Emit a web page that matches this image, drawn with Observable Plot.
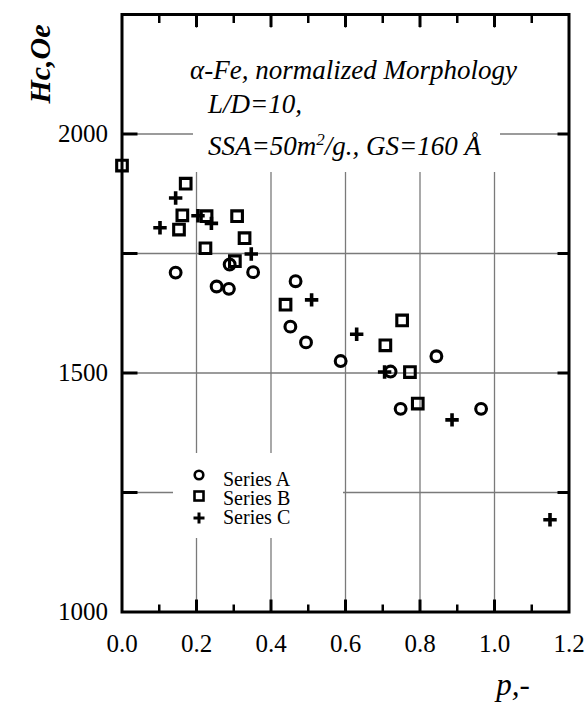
<!DOCTYPE html>
<html><head><meta charset="utf-8">
<script src="https://cdn.jsdelivr.net/npm/d3@7"></script>
<script src="https://cdn.jsdelivr.net/npm/@observablehq/plot@0.6"></script>
<style>
body{margin:0;background:#fff;}
#wrap{position:relative;width:587px;height:703px;font-family:"Liberation Serif",serif;color:#000;}
#wrap svg{position:absolute;left:0;top:0;}
</style></head><body><div id="wrap"></div>
<script>
// ---- data ----
const seriesNames = ["Series A", "Series B", "Series C"];
const seriesA_p  = [0.144, 0.254, 0.287, 0.289, 0.352, 0.466, 0.452, 0.494, 0.587, 0.721, 0.748, 0.844, 0.964];
const seriesA_hc = [1710, 1681, 1676, 1727, 1711, 1692, 1597, 1564, 1525, 1503, 1425, 1535, 1425];
const seriesB_p  = [0.0, 0.171, 0.162, 0.153, 0.227, 0.224, 0.309, 0.329, 0.303, 0.439, 0.752, 0.707, 0.773, 0.794];
const seriesB_hc = [1934, 1896, 1830, 1800, 1828, 1761, 1828, 1782, 1734, 1643, 1610, 1558, 1502, 1436];
const seriesC_p  = [0.144, 0.102, 0.204, 0.240, 0.347, 0.509, 0.630, 0.705, 0.886, 1.149];
const seriesC_hc = [1866, 1804, 1829, 1813, 1749, 1653, 1581, 1502, 1402, 1193];

const xLabelTicks = [0, 0.2, 0.4, 0.6, 0.8, 1.0, 1.2];
const xMajorTicks = [0.2, 0.4, 0.6, 0.8, 1.0];
const xMinorTicks = [0.1, 0.3, 0.5, 0.7, 0.9, 1.1];
const yLabelTicks = [1000, 1500, 2000];
const yGridTicks  = [1250, 1500, 1750, 2000];
const xTitle = "p,-";
const yTitle = "Hc,Oe";
const noteLine1 = "α-Fe, normalized Morphology";
const noteLine2 = "L/D=10,";

const toRows = (ps, hs) => ps.map((p, i) => ({p, hc: hs[i]}));
const dataA = toRows(seriesA_p, seriesA_hc);
const dataB = toRows(seriesB_p, seriesB_hc);
const dataC = toRows(seriesC_p, seriesC_hc);

const W = 587, H = 703;
const tickColor = "#000";
const plot = Plot.plot({
  width: W, height: H,
  marginLeft: 121.5, marginRight: 18.5, marginTop: 14, marginBottom: 91.5,
  x: {domain: [0, 1.2], label: null},
  y: {domain: [1000, 2250], label: null},
  style: {fontFamily: "'Liberation Serif', serif", fontSize: "25px", color: "#000", background: "#fff"},
  marks: [
    Plot.ruleX(xMajorTicks, {stroke: "#7a7a7a", strokeWidth: 1.3}),
    Plot.ruleY(yGridTicks, {stroke: "#7a7a7a", strokeWidth: 1.3}),
    // inward frame ticks (axis ticks shifted inside the frame)
    Plot.axisX(xMinorTicks, {anchor: "bottom", tickSize: 7, dy: -7, stroke: tickColor, strokeWidth: 2.5, fill: "none"}),
    Plot.axisX(xMajorTicks, {anchor: "bottom", tickSize: 12, dy: -12, stroke: tickColor, strokeWidth: 3, fill: "none"}),
    Plot.axisX(xMinorTicks, {anchor: "top", tickSize: 8, dy: 8, stroke: tickColor, strokeWidth: 2.5, fill: "none"}),
    Plot.axisX(xMajorTicks, {anchor: "top", tickSize: 12, dy: 12, stroke: tickColor, strokeWidth: 3, fill: "none"}),
    Plot.axisY(yGridTicks, {anchor: "left", tickSize: 16, dx: 16, stroke: tickColor, strokeWidth: 3, fill: "none"}),
    Plot.axisY(yGridTicks, {anchor: "right", tickSize: 12, dx: -12, stroke: tickColor, strokeWidth: 3, fill: "none"}),
    Plot.axisX(xLabelTicks, {anchor: "bottom", tickSize: 0, tickPadding: 22, tickFormat: d3.format(".1f"), fontSize: 25}),
    Plot.axisY(yLabelTicks, {anchor: "left", tickSize: 0, tickPadding: 14, tickFormat: d => String(d), fontSize: 25}),
    Plot.frame({stroke: "#000", strokeWidth: 3}),
    Plot.dot(dataA, {x: "p", y: "hc", symbol: "circle", r: 5.4, stroke: "#000", strokeWidth: 3.1, fill: "none"}),
    Plot.dot(dataB, {x: "p", y: "hc", symbol: "square", r: 6.0, stroke: "#000", strokeWidth: 3.1, fill: "none"}),
    Plot.dot(dataC, {x: "p", y: "hc", symbol: "plus", r: 4.4, stroke: "#000", strokeWidth: 3.6, fill: "none"})
  ]
});
const wrap = document.getElementById("wrap");
wrap.appendChild(plot);

// ---- overlay: annotation box, legend box, axis titles ----
const ov = d3.select(wrap).append("svg")
  .attr("width", W).attr("height", H)
  .style("font-family", "'Liberation Serif', serif");
ov.append("rect").attr("x", 193).attr("y", 28).attr("width", 307).attr("height", 144).attr("fill", "#fff");
const ital = {"font-style": "italic", "font-size": "27px"};
function txt(x, y, s, opts) {
  const t = ov.append("text").attr("x", x).attr("y", y).text(s);
  for (const k in opts) t.attr(k, opts[k]);
  return t;
}
txt(190, 79, noteLine1, ital);
txt(208, 113, noteLine2, ital);
const l3 = ov.append("text").attr("x", 208).attr("y", 155).attr("font-style", "italic").attr("font-size", "27px");
l3.append("tspan").text("SSA=50m");
l3.append("tspan").attr("dy", -10).attr("font-size", "17px").text("2");
l3.append("tspan").attr("dy", 10).text("/g., GS=160 Å");

// legend
ov.append("rect").attr("x", 173).attr("y", 453).attr("width", 170).attr("height", 85).attr("fill", "#fff");
ov.append("circle").attr("cx", 199).attr("cy", 475).attr("r", 4.3).attr("fill", "none").attr("stroke", "#000").attr("stroke-width", 2.6);
ov.append("rect").attr("x", 194.5).attr("y", 491.5).attr("width", 9).attr("height", 9).attr("fill", "none").attr("stroke", "#000").attr("stroke-width", 2.6);
ov.append("path").attr("d", "M193.5,518H204.5M199,512.5V523.5").attr("stroke", "#000").attr("stroke-width", 3);
const legY = [485.5, 504.5, 524];
seriesNames.forEach((n, i) => txt(223, legY[i], n, {"font-size": "20px"}));

// axis titles
txt(513, 695, xTitle, {"font-style": "italic", "font-size": "31px", "text-anchor": "middle"});
txt(0, 0, yTitle, {"font-style": "italic", "font-weight": "bold", "font-size": "30px", "text-anchor": "middle",
  "transform": "translate(50,64) rotate(-90)"});
</script></body></html>
